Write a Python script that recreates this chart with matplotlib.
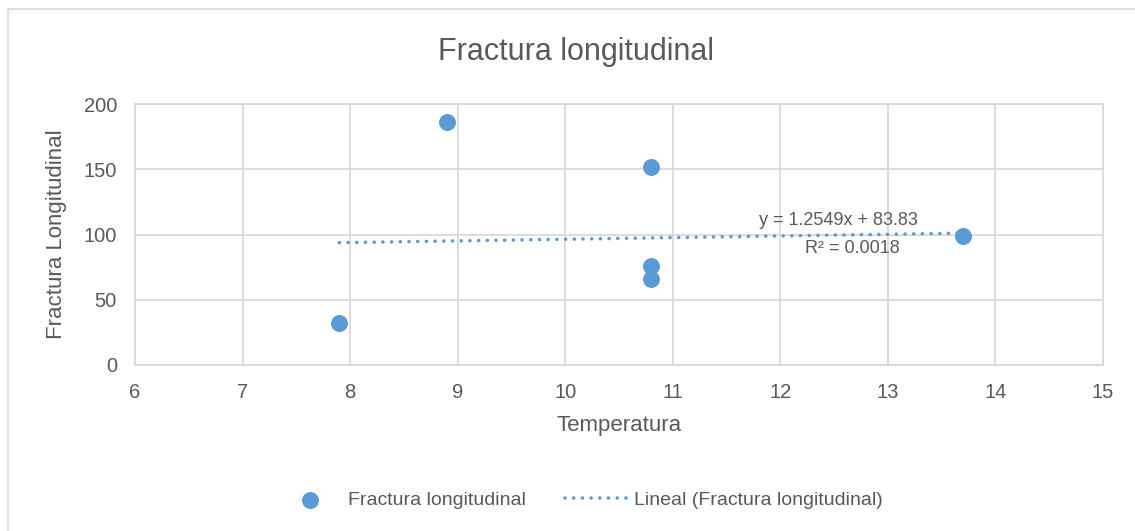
import matplotlib.pyplot as plt
from matplotlib.patches import Rectangle
import numpy as np

# datos
temperatura = [7.9, 8.9, 10.8, 10.8, 10.8, 13.7]
fractura = [32, 186, 152, 76, 66, 99]
pendiente = 1.2549
intercepto = 83.83
r2 = 0.0018
xticks = [6, 7, 8, 9, 10, 11, 12, 13, 14, 15]
yticks = [0, 50, 100, 150, 200]

azul = '#5B9BD5'
gris_txt = '#595959'
gris_lin = '#D9D9D9'

plt.rcParams['font.family'] = ['Liberation Sans Narrow', 'Liberation Sans', 'DejaVu Sans']

fig = plt.figure(figsize=(11.35, 5.31), dpi=100)
# borde exterior del grafico
fig.patches.append(Rectangle((8/1135, -0.05), 1.2, 1 - 9/531 + 0.05, transform=fig.transFigure,
                             fill=False, edgecolor=gris_lin, lw=1.2))

ax = fig.add_axes([135/1135, 1 - 365/531, (1103 - 135)/1135, (365 - 104)/531])
ax.scatter(temperatura, fractura, s=125, color=azul, zorder=3, label='Fractura longitudinal')

# linea de tendencia
xt = np.array([min(temperatura), max(temperatura)])
ax.plot(xt, pendiente * xt + intercepto, ls=(0, (0.01, 2.4)), lw=2.6, color=azul,
        dash_capstyle='round', zorder=2, label='Lineal (Fractura longitudinal)')

ax.text(12.54, 111, 'y = %.4fx + %.2f' % (pendiente, intercepto), ha='center', va='center',
        fontsize=13, color=gris_txt)
ax.text(12.67, 89, 'R² = %.4f' % r2, ha='center', va='center', fontsize=13, color=gris_txt)

ax.set_xlim(6, 15)
ax.set_ylim(0, 200)
ax.set_xticks(xticks)
ax.set_yticks(yticks)
ax.grid(True, color=gris_lin, lw=1.3)
ax.set_axisbelow(True)
for s in ax.spines.values():
    s.set_color(gris_lin)
    s.set_linewidth(1.3)
ax.tick_params(length=0, labelsize=14.5, labelcolor=gris_txt, pad=13)

ax.set_xlabel('Temperatura', fontsize=16, color=gris_txt, labelpad=9)
ax.set_ylabel('Fractura Longitudinal', fontsize=16, color=gris_txt, labelpad=12)
fig.text(576/1135, 1 - 52/531, 'Fractura longitudinal', ha='center', va='center', fontsize=22, color=gris_txt)

fig.legend(loc='center', bbox_to_anchor=(0.512, 1 - 500/531), ncol=2, frameon=False,
           fontsize=14, labelcolor=gris_txt, columnspacing=2.0, handlelength=3.2,
           handletextpad=0.35)

fig.savefig('out.png', dpi=100)
